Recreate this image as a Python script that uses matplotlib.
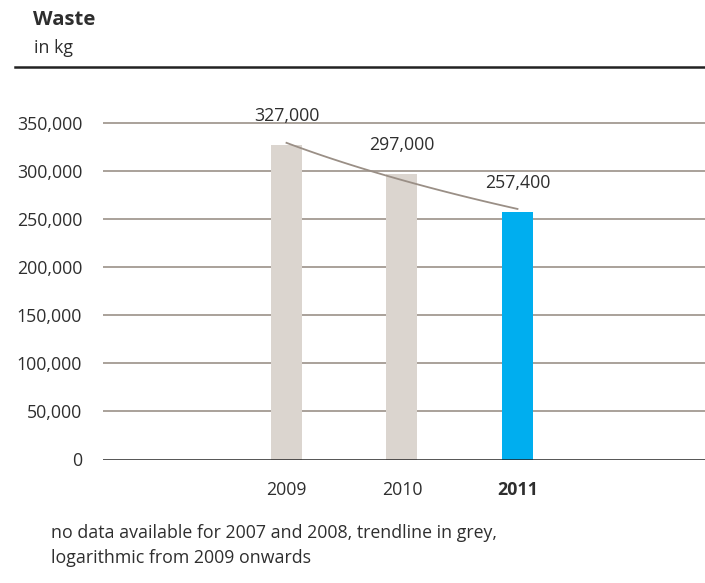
import numpy as np
import matplotlib
matplotlib.use("Agg")
import matplotlib.pyplot as plt

plt.rcParams['font.family'] = ['Open Sans', 'DejaVu Sans']

years = ["2009", "2010", "2011"]
waste_kg = [327000, 297000, 257400]
value_labels = ["327,000", "297,000", "257,400"]
bar_colors = ["#dbd5cf", "#dbd5cf", "#00aeef"]
y_ticks = [0, 50000, 100000, 150000, 200000, 250000, 300000, 350000]
y_tick_labels = ["0", "50,000", "100,000", "150,000", "200,000", "250,000", "300,000", "350,000"]

TEXT = "#2e2e2e"
GRID = "#a39a92"
TREND = "#9a8f86"
FS = 12.8

W, H = 705, 583
fig = plt.figure(figsize=(W / 100, H / 100), dpi=100)

# axes placed in pixel terms
ax_left, ax_right = 103, 705
y0_px = 459.5
px_per_unit = (459.5 - 123.3) / 350000
ymax = 360000
ax_top = y0_px - ymax * px_per_unit
ax = fig.add_axes([ax_left / W, (H - y0_px) / H, (ax_right - ax_left) / W, (y0_px - ax_top) / H])

x = np.arange(len(years))
spacing = 115.5
ax.set_xlim(-(286.5 - ax_left) / spacing, 2 + (ax_right - 517.5) / spacing)
ax.set_ylim(0, ymax)

for t in y_ticks[1:]:
    ax.axhline(t, color=GRID, lw=1.3, zorder=1)
ax.axhline(0, color="#222222", lw=1.8, zorder=4)

ax.bar(x, waste_kg, width=31 / spacing, color=bar_colors, zorder=2)

# logarithmic trendline, counting years from 2007 = 1
t_idx = np.array([3, 4, 5], dtype=float)
b, a = np.polyfit(np.log(t_idx), np.array(waste_kg, dtype=float), 1)
xs = np.linspace(0, 2, 100)
trend = a + b * np.log(xs + 3)
ax.plot(xs, trend, color=TREND, lw=1.3, zorder=3)

for xi, v, lab in zip(x, waste_kg, value_labels):
    ax.annotate(lab, (xi, v), xytext=(0, 24 * 0.72), textcoords="offset points",
                ha="center", va="baseline", fontsize=FS, color=TEXT)

ax.set_yticks(y_ticks)
ax.set_yticklabels(y_tick_labels, fontsize=FS, color=TEXT)
ax.set_xticks(x)
ax.set_xticklabels(years, fontsize=FS, color=TEXT)
ax.get_xticklabels()[-1].set_fontweight("bold")
ax.tick_params(axis="y", length=0, pad=15)
ax.tick_params(axis="x", length=0, pad=15.5)
for s in ax.spines.values():
    s.set_visible(False)

# header
fig.text(33 / W, 1 - 25 / H, "Waste", fontsize=14.6, fontweight="bold", color=TEXT, va="baseline")
fig.text(34 / W, 1 - 52.7 / H, "in kg", fontsize=FS, color=TEXT, va="baseline")
fig.add_artist(plt.Line2D([15 / W, 1], [1 - 67 / H, 1 - 67 / H], color="#222222", lw=1.8))

# footnote
fig.text(51 / W, 1 - 538 / H, "no data available for 2007 and 2008, trendline in grey,",
         fontsize=FS, color=TEXT, va="baseline")
fig.text(51 / W, 1 - 563 / H, "logarithmic from 2009 onwards",
         fontsize=FS, color=TEXT, va="baseline")

fig.savefig("out.png", dpi=100, facecolor="white")
